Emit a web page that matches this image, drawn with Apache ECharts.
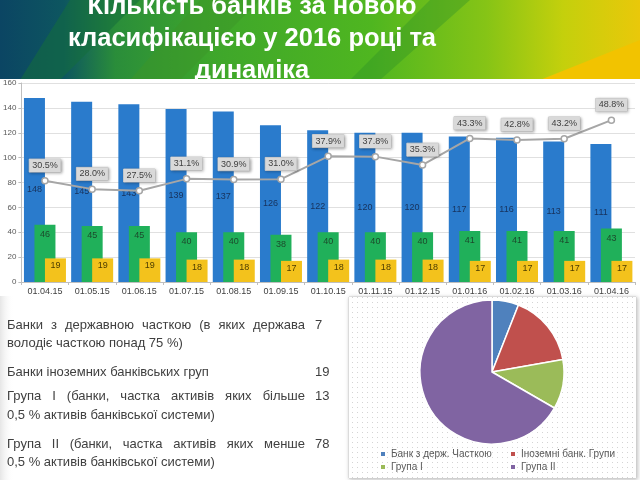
<!DOCTYPE html>
<html>
<head>
<meta charset="utf-8">
<script src="https://cdn.jsdelivr.net/npm/echarts@6/dist/echarts.min.js"></script>
<style>
html,body{margin:0;padding:0;background:#fff;}
#c{width:640px;height:480px;}
</style>
</head>
<body>
<div id="c"></div>
<script>
// ---- data ----
var titleLines = ['Кількість банків за новою', 'класифікацією у 2016 році та', 'динаміка'];
var categories = ['01.04.15','01.05.15','01.06.15','01.07.15','01.08.15','01.09.15','01.10.15','01.11.15','01.12.15','01.01.16','01.02.16','01.03.16','01.04.16'];
var totalBanks = [148,145,143,139,137,126,122,120,120,117,116,113,111];
var groupBanks = [46,45,45,40,40,38,40,40,40,41,41,41,43];
var foreignBanks = [19,19,19,18,18,17,18,18,18,17,17,17,17];
var sharePct = [30.5,28.0,27.5,31.1,30.9,31.0,37.9,37.8,35.3,43.3,42.8,43.2,48.8];
var yTicks = [0,20,40,60,80,100,120,140,160];
var pieNames = ['Банк з держ. Часткою','Іноземні банк. Групи','Група І','Група ІІ'];
var pieValues = [7,19,13,78];
var textRows = [
  {lines:['Банки з державною часткою (в яких держава','володіє часткою понад 75 %)'], value:'7'},
  {lines:['Банки іноземних банківських груп'], value:'19'},
  {lines:['Група І (банки, частка активів яких більше','0,5 % активів банківської системи)'], value:'13'},
  {lines:['Група ІІ (банки, частка активів яких менше','0,5 % активів банківської системи)'], value:'78'}
];

// ---- layout helpers ----
var FONT_FAMILY = '"Liberation Sans", Arial, sans-serif';
var measureCtx = document.createElement('canvas').getContext('2d');
measureCtx.font = '13px ' + FONT_FAMILY;

function justifiedLine(text, x, y, width, justify) {
  var words = text.split(' ');
  var els = [];
  if (!justify || words.length < 2) {
    els.push({type:'text', z:5, style:{text:text, x:x, y:y, fill:'#404040', font:'13px ' + FONT_FAMILY, textVerticalAlign:'middle'}});
    return els;
  }
  var sum = 0, ws = [];
  words.forEach(function(w){ var m = measureCtx.measureText(w).width; ws.push(m); sum += m; });
  var gap = (width - sum) / (words.length - 1);
  var cx = x;
  words.forEach(function(w, i){
    els.push({type:'text', z:5, style:{text:w, x:cx, y:y, fill:'#404040', font:'13px ' + FONT_FAMILY, textVerticalAlign:'middle'}});
    cx += ws[i] + gap;
  });
  return els;
}

var graphics = [];
var BG = -1;
// top decorative background
graphics.push({type:'rect', zlevel:BG, z:0, shape:{x:0,y:0,width:640,height:80},
  style:{fill:new echarts.graphic.LinearGradient(0,0,1,0,[
    {offset:0,color:'#0b4563'},{offset:0.1,color:'#0d5660'},{offset:0.18,color:'#2a8d3a'},
    {offset:0.33,color:'#3ea62b'},{offset:0.58,color:'#4fb620'},{offset:0.76,color:'#86c416'},
    {offset:0.88,color:'#c4d00c'},{offset:1,color:'#e9c80a'}])}});
graphics.push({type:'polygon', zlevel:BG, z:1, shape:{points:[[70,0],[140,0],[60,80],[20,80]]}, style:{fill:'rgba(20,110,60,0.55)'}});
graphics.push({type:'polygon', zlevel:BG, z:1, shape:{points:[[200,0],[260,0],[180,80],[130,80]]}, style:{fill:'rgba(60,150,40,0.5)'}});
graphics.push({type:'polygon', zlevel:BG, z:1, shape:{points:[[430,0],[470,0],[380,80],[350,80]]}, style:{fill:'rgba(40,140,40,0.35)'}});
graphics.push({type:'polygon', zlevel:BG, z:1, shape:{points:[[540,80],[640,40],[640,80]]}, style:{fill:'#f2c300'}});
// title
var titleY = [7, 39, 71];
titleLines.forEach(function(t, i){
  graphics.push({type:'text', zlevel:BG, z:2, style:{text:t, x:252, y:titleY[i], fill:'#ffffff',
    font:'bold 25.5px ' + FONT_FAMILY, textAlign:'center', textVerticalAlign:'middle'}});
});
// white panel covering
graphics.push({type:'rect', zlevel:BG, z:3, shape:{x:0,y:79,width:640,height:401}, style:{fill:'#ffffff'}});
graphics.push({type:'rect', zlevel:BG, z:4, shape:{x:0,y:296,width:14,height:184},
  style:{fill:new echarts.graphic.LinearGradient(0,0,1,0,[{offset:0,color:'#e6e6e6'},{offset:1,color:'rgba(255,255,255,0)'}])}});
// dotted pie panel
var pc = document.createElement('canvas'); pc.width = 5; pc.height = 5;
var pctx = pc.getContext('2d'); pctx.fillStyle = '#ffffff'; pctx.fillRect(0,0,5,5);
pctx.fillStyle = '#d4d4d4'; pctx.fillRect(2,2,1,1);
graphics.push({type:'rect', zlevel:BG, z:5, shape:{x:349,y:297,width:287,height:181},
  style:{fill:'#ffffff', stroke:'#d0d0d0', lineWidth:1, shadowBlur:4, shadowColor:'rgba(0,0,0,0.25)', shadowOffsetX:1, shadowOffsetY:1}});
graphics.push({type:'rect', zlevel:BG, z:6, shape:{x:349,y:297,width:287,height:181},
  style:{fill:{image:pc, repeat:'repeat'}}});
// text block
var rowY = [[325,343],[372],[396,415],[444,462]];
textRows.forEach(function(r, i){
  r.lines.forEach(function(l, j){
    var justify = (r.lines.length > 1 && j === 0);
    justifiedLine(l, 7, rowY[i][j], 298, justify).forEach(function(e){ graphics.push(e); });
  });
  graphics.push({type:'text', z:5, style:{text:r.value, x:315, y:rowY[i][0], fill:'#404040', font:'13px ' + FONT_FAMILY, textVerticalAlign:'middle'}});
});

var chart = echarts.init(document.getElementById('c'), null, {renderer:'canvas'});
var option = {
  animation:false,
  textStyle:{fontFamily:FONT_FAMILY},
  color:['#4f81bd','#c0504d','#9bbb59','#8064a2'],
  graphic:{elements:graphics},
  grid:{left:20, right:5, top:83, bottom:198, containLabel:false},
  xAxis:{type:'category', data:categories,
    axisLine:{lineStyle:{color:'#bfbfbf'}},
    axisTick:{show:true, length:3, lineStyle:{color:'#bfbfbf'}},
    axisLabel:{color:'#404040', fontSize:9, margin:5}},
  yAxis:[{type:'value', min:yTicks[0], max:yTicks[yTicks.length-1], interval:20,
      axisLine:{show:true, lineStyle:{color:'#bfbfbf'}},
      axisTick:{show:true, length:3, lineStyle:{color:'#bfbfbf'}},
      axisLabel:{color:'#595959', fontSize:8, margin:5},
      splitLine:{lineStyle:{color:'#e0e0e0'}}},
    {type:'value', min:0, max:60, show:false, splitLine:{show:false}}],
  legend:[
    {orient:'vertical', left:379, top:449, padding:0, itemWidth:6, itemHeight:6, itemGap:3, icon:'rect',
     data:[pieNames[0], pieNames[2]], textStyle:{color:'#595959', fontSize:10}, selectedMode:false},
    {orient:'vertical', left:509, top:449, padding:0, itemWidth:6, itemHeight:6, itemGap:3, icon:'rect',
     data:[pieNames[1], pieNames[3]], textStyle:{color:'#595959', fontSize:10}, selectedMode:false}
  ],
  series:[
    {type:'bar', name:'Всього', data:totalBanks, barWidth:21, barGap:'-50%',
     itemStyle:{color:'#2a7bcc'},
     label:{show:true, position:'inside', color:'#17325c', fontSize:9}},
    {type:'bar', name:'Групи', data:groupBanks, barWidth:21, barGap:'-50%',
     itemStyle:{color:'#20b05a'},
     label:{show:true, position:'insideTop', distance:5, color:'#1c4a2c', fontSize:9}},
    {type:'bar', name:'Іноземні', data:foreignBanks, barWidth:21, barGap:'-50%',
     itemStyle:{color:'#f3c21c'},
     label:{show:true, position:'insideTop', distance:3, color:'#4d3d00', fontSize:9}},
    {type:'line', name:'Частка', yAxisIndex:1, data:sharePct, z:5,
     lineStyle:{color:'#a6a6a6', width:2},
     symbol:'circle', symbolSize:6,
     itemStyle:{color:'#ffffff', borderColor:'#a6a6a6', borderWidth:1.5},
     label:{show:true, position:'top', distance:5, fontSize:9, color:'#404040',
       backgroundColor:'#d9d9d9', borderColor:'#c9c9c9', borderWidth:0.5, padding:[2,3],
       shadowColor:'rgba(0,0,0,0.3)', shadowBlur:3, shadowOffsetX:1, shadowOffsetY:1,
       formatter:function(p){ return p.value.toFixed(1) + '%'; }}},
    {type:'pie', name:'Структура', center:[492,372], radius:72, startAngle:90, clockwise:true,
     label:{show:false}, labelLine:{show:false}, z:6,
     itemStyle:{borderColor:'#ffffff', borderWidth:1.5},
     data:pieNames.map(function(n, i){ return {name:n, value:pieValues[i]}; })}
  ]
};
chart.setOption(option);
</script>
</body>
</html>
